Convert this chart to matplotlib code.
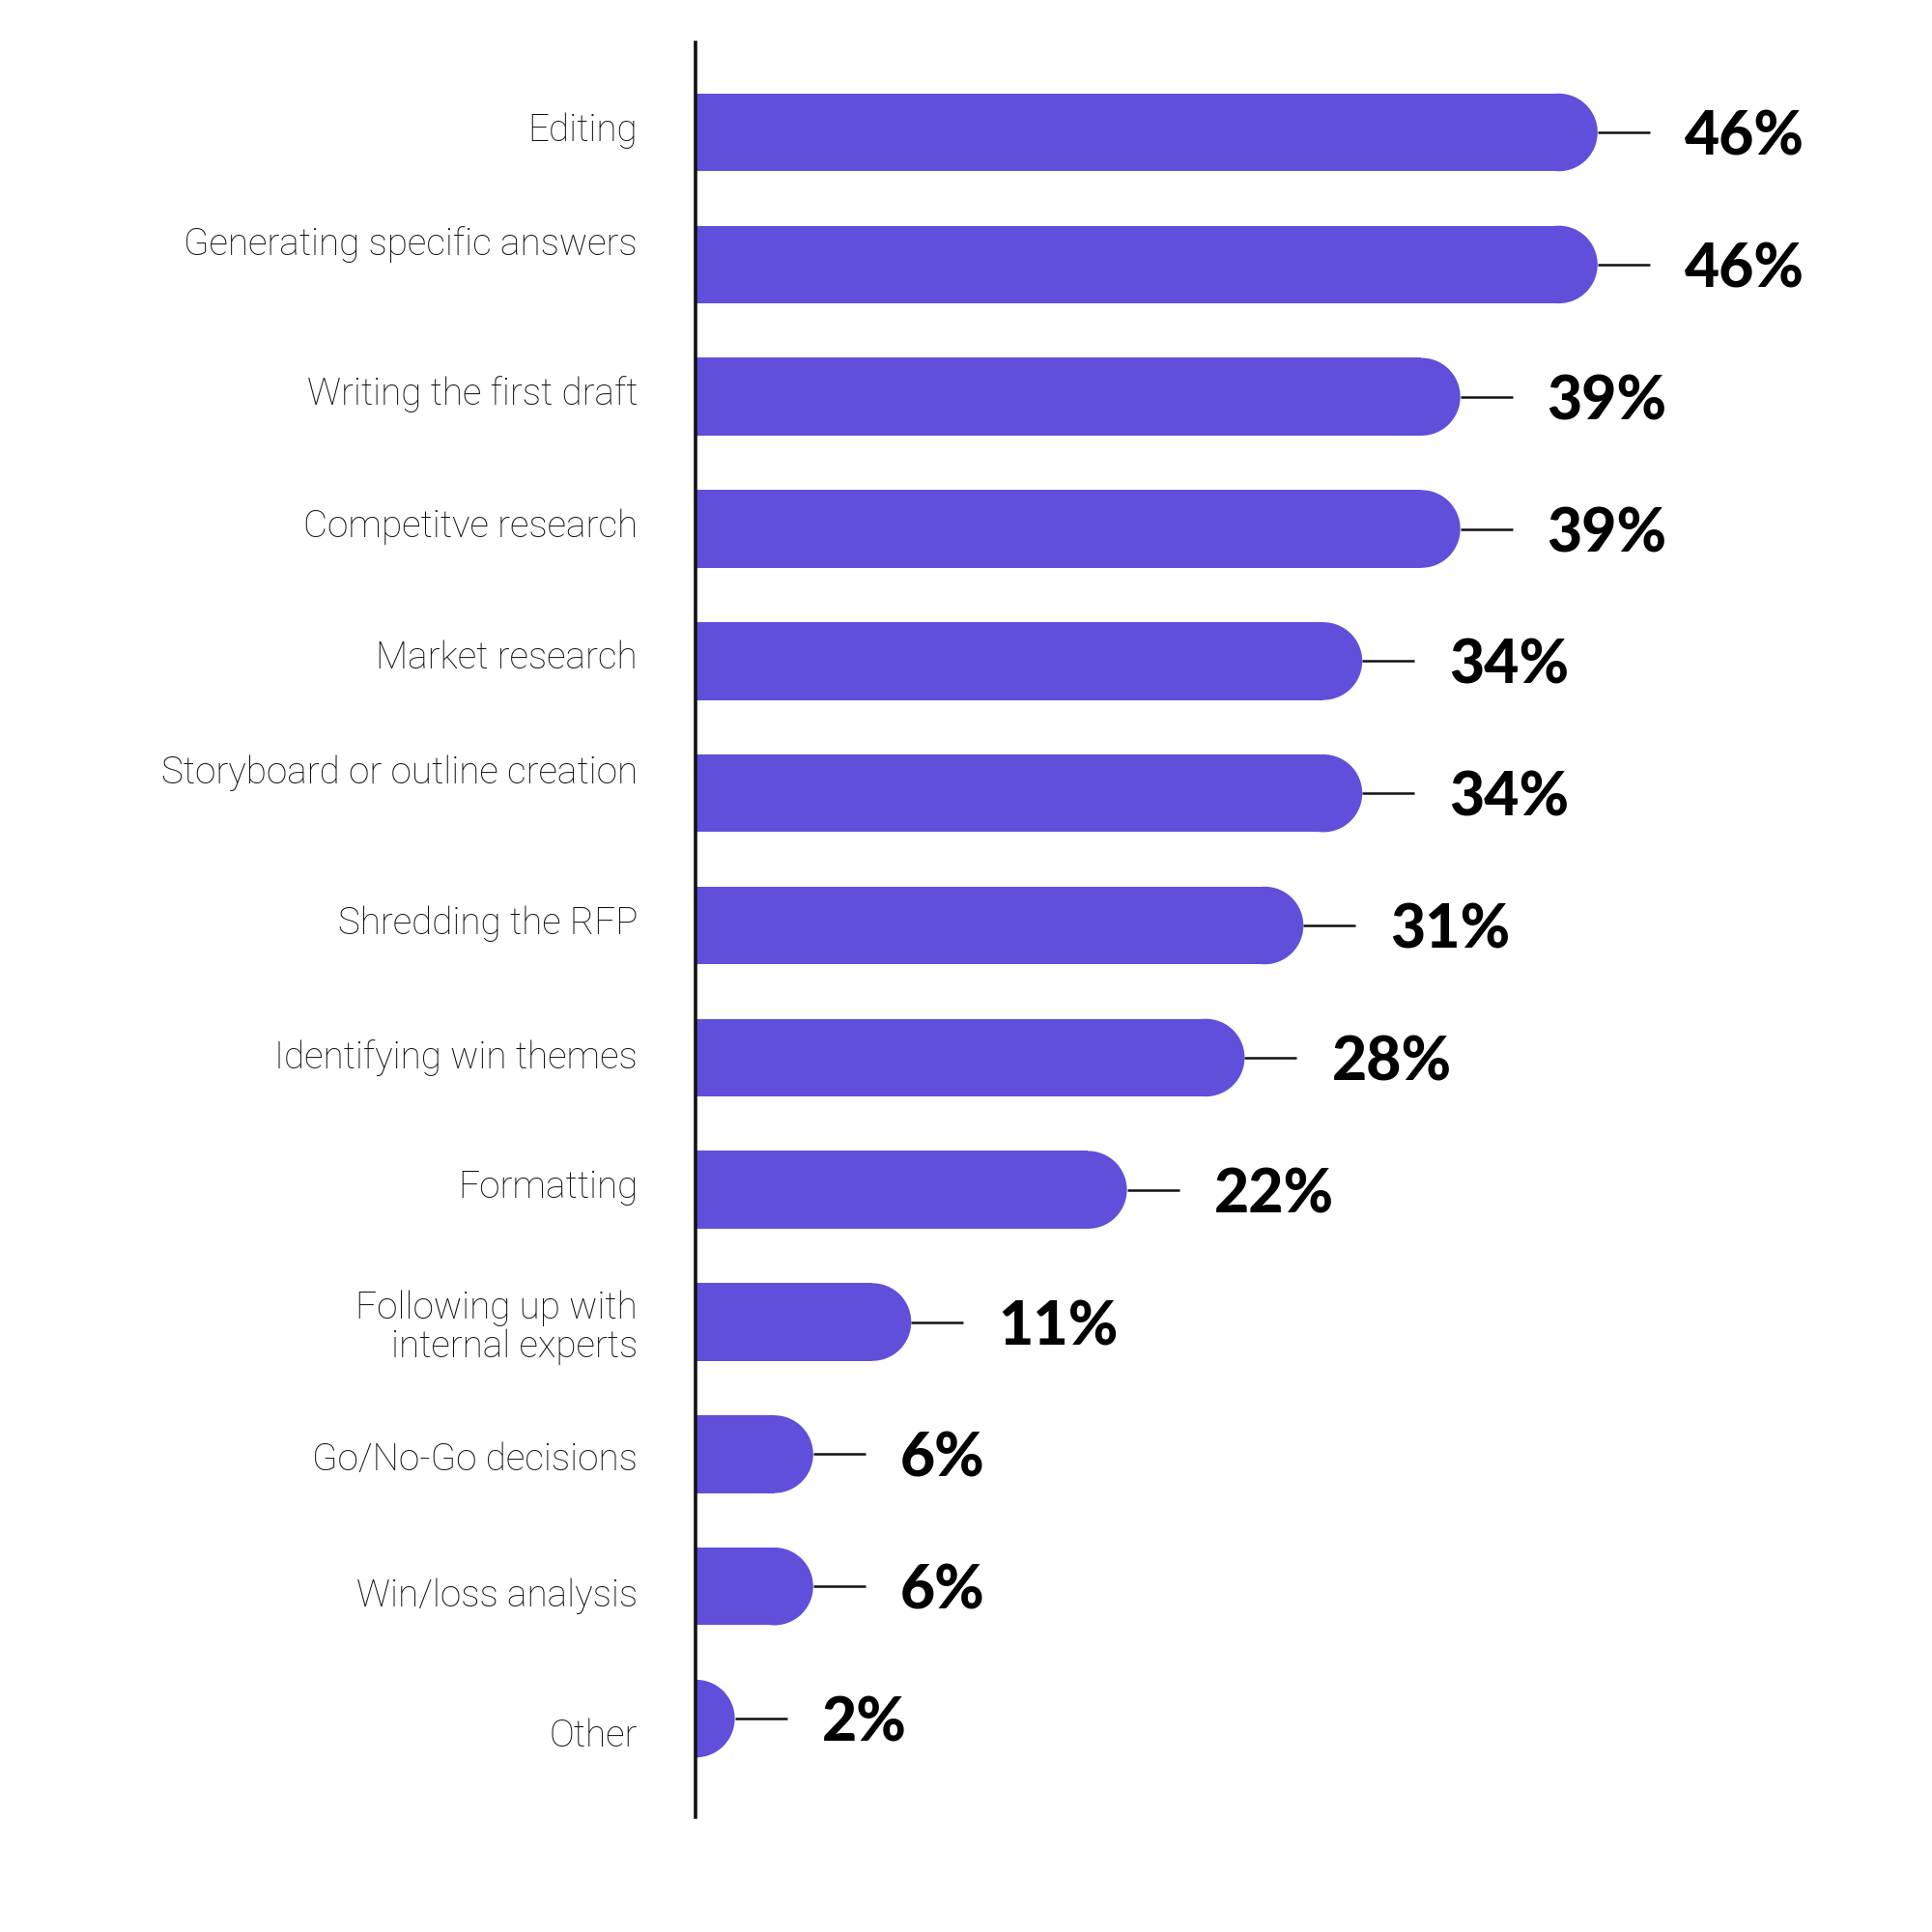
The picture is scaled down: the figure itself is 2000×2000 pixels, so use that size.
import numpy as np
import matplotlib
matplotlib.use("Agg")
import matplotlib.pyplot as plt
from matplotlib.patches import Ellipse

# data, top to bottom
categories = [
    "Editing",
    "Generating specific answers",
    "Writing the first draft",
    "Competitve research",
    "Market research",
    "Storyboard or outline creation",
    "Shredding the RFP",
    "Identifying win themes",
    "Formatting",
    "Following up with\ninternal experts",
    "Go/No-Go decisions",
    "Win/loss analysis",
    "Other",
]
values = [46, 46, 39, 39, 34, 34, 31, 28, 22, 11, 6, 6, 2]
value_labels = [f"{v}%" for v in values]

# small vertical nudges of the category labels (points, + is up)
label_nudge = [0.5, 7.5, 1, 1, 1, 7.7, 0.7, 0, 1, -2, -2, -3.5, -6.5]

BAR_COLOR = "#604fda"
DPI = 200
AX = [0.360, 0.0595, 0.609, 0.9185]
XMAX = 60
YLIM = (12.745, -0.68)

fig = plt.figure(figsize=(10, 10), dpi=DPI)
fig.patch.set_facecolor("white")
ax = fig.add_axes(AX)
ax.set_xlim(0, XMAX)
ax.set_ylim(*YLIM)

for s in ["top", "right", "bottom"]:
    ax.spines[s].set_visible(False)
ax.spines["left"].set_linewidth(1.3)
ax.spines["left"].set_color("#111111")
ax.set_xticks([])
ax.set_yticks([])

# pixel scale of data units, so the rounded caps are true semicircles
px_x = AX[2] * 10 * DPI / XMAX
px_y = AX[3] * 10 * DPI / (YLIM[0] - YLIM[1])

bar_h = 0.588
r_x = bar_h * px_y / 2 / px_x

ypos = np.arange(len(values))
for y, v, lab, cat, nud in zip(ypos, values, value_labels, categories, label_nudge):
    body = max(v - r_x, 0)
    ax.barh(y, body, height=bar_h, color=BAR_COLOR, linewidth=0, left=0)
    ax.add_patch(Ellipse((body, y), 2 * r_x, bar_h, color=BAR_COLOR, linewidth=0))
    end = body + r_x
    line_len = 54 / px_x
    ax.plot([end, end + line_len], [y, y], color="#111111", lw=0.9,
            solid_capstyle="butt", clip_on=False)
    ax.text(end + line_len + 36 / px_x, y, lab, ha="left", va="center_baseline",
            fontsize=22.5, fontweight="black", family=["Lato", "DejaVu Sans"], color="black")
    ax.annotate(cat, xy=(0, y), xytext=(-21.6, nud), textcoords="offset points",
                ha="right", va="center", fontsize=13.9, fontweight="light",
                family=["Roboto", "DejaVu Sans"], color="#111111", linespacing=1.1,
                multialignment="right", annotation_clip=False)

fig.savefig("out.png", dpi=DPI, facecolor="white")
